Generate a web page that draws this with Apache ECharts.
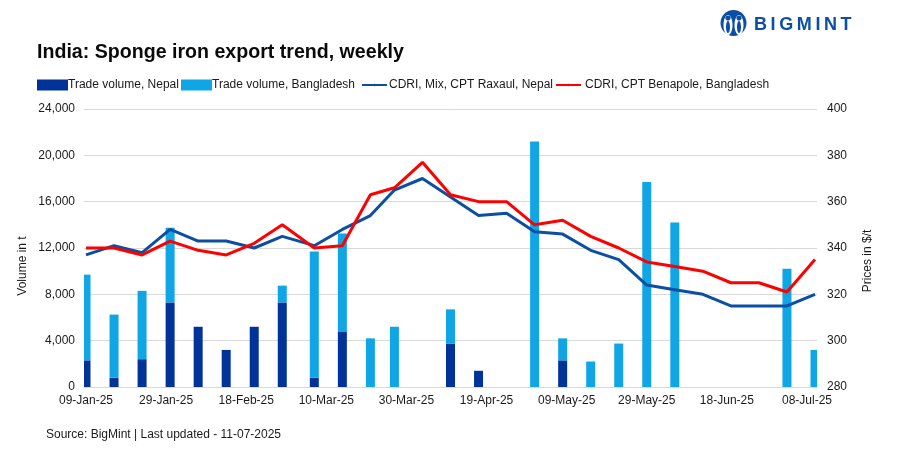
<!DOCTYPE html>
<html>
<head>
<meta charset="utf-8">
<script src="https://cdn.jsdelivr.net/npm/echarts@6/dist/echarts.min.js"></script>
<style>
html,body{margin:0;padding:0;background:#fff;}
#main{width:908px;height:453px;}
</style>
</head>
<body>
<div id="main"></div>
<script>
// weeks the prices were published, days counted from 09-Jan-25
var weekDays = [0,7,14,21,28,35,42,49,57,64,71,77,84,91,98,105,112,119,126,133,140,147,154,161,168,175,182];
var volNepal = [2300,800,2400,7300,5200,3200,5200,7300,800,4800,null,null,null,3750,1400,null,null,2300,null,null,null,null,null,null,null,null,null];
var volBangla = [7400,5450,5900,6450,null,null,null,1450,10900,8450,4200,5200,null,2950,null,null,21200,1900,2200,3750,17700,14200,null,null,null,10200,3200];
var cdriNepal = [337,341,338,348,343,343,340,345,341,348,354,365,370,362,354,355,347,346,339,335,324,322,320,315,315,315,320];
var cdriBangla = [340,340,337,343,339,337,342,350,340,341,363,366,377,363,360,360,350,352,345,340,334,332,330,325,325,321,335];
var leftTicks = {min:0, max:24000, step:4000};
var rightTicks = {min:280, max:400, step:20};
var seriesNames = ['Trade volume, Nepal','Trade volume, Bangladesh','CDRI, Mix, CPT Raxaul, Nepal','CDRI, CPT Benapole, Bangladesh'];

var FONT = '"Liberation Sans"';
var C_TEXT = '#1a1a1a', C_GRID = '#d9d9d9';
var C_NEPAL = '#003399', C_BANGLA = '#10A5E5', C_LINE = '#0B4EA2', C_RED = '#FF0000';

//date axis: one category per day, same as the source sheet
var MONTHS = ['Jan','Feb','Mar','Apr','May','Jun','Jul','Aug','Sep','Oct','Nov','Dec'];
function dayLabel(n){
	var d = new Date(Date.UTC(2025,0,9+n));
	var dd = d.getUTCDate();
	return (dd<10?'0':'')+dd+'-'+MONTHS[d.getUTCMonth()]+'-25';
}
var days = [];
for(var i=0;i<=weekDays[weekDays.length-1];i++){
	days.push(dayLabel(i));
}
function pairs(arr){
	return weekDays.map(function(d,i){ return [d,arr[i]]; });
}

function legendAt(name,left,w,h,shift){
	return {
		left:left, top:79, orient:'horizontal', padding:0,
		itemWidth:w, itemHeight:h, icon:h>5?'rect':undefined,
		data:[name], selectedMode:false,
		textStyle:{fontFamily:FONT,fontSize:12,color:C_TEXT,padding:[0,0,0,shift]}
	};
}
function sideText(text,x,y){
	return {type:'text',x:x,y:y,rotation:Math.PI/2,
		style:{text:text,fontFamily:FONT,fontSize:12,fill:C_TEXT,align:'center',verticalAlign:'middle'}};
}
function logoDot(x,y,rx,ry,fill){
	return {type:'ellipse',shape:{cx:x,cy:y,rx:rx,ry:ry},style:{fill:fill}};
}

var chart = echarts.init(document.getElementById('main'),null,{renderer:'canvas'});
chart.setOption({
	animation:false,
	backgroundColor:'#fff',
	title:{
		text:'India: Sponge iron export trend, weekly',
		left:37, top:43, padding:0,
		textStyle:{fontFamily:FONT,fontSize:19.6,fontWeight:'bold',color:'#0a0a0a'}
	},
	legend:[
		legendAt(seriesNames[0],37,31,11,-5),
		legendAt(seriesNames[1],181,31,11,-5),
		legendAt(seriesNames[2],361,25,3,-3),
		legendAt(seriesNames[3],555,25,3,-1)
	],
	grid:{left:84,right:91,top:109,bottom:66},
	xAxis:{
		type:'category',
		data:days,
		axisLine:{lineStyle:{color:C_GRID}},
		axisTick:{interval:19,length:4,lineStyle:{color:C_GRID}},
		axisLabel:{interval:19,fontFamily:FONT,fontSize:12,color:C_TEXT,margin:8,hideOverlap:false}
	},
	yAxis:[{
		type:'value',
		min:leftTicks.min,max:leftTicks.max,interval:leftTicks.step,
		axisLine:{show:false},axisTick:{show:false},
		splitLine:{lineStyle:{color:C_GRID}},
		axisLabel:{fontFamily:FONT,fontSize:12,color:C_TEXT,margin:9,
			formatter:function(v){return v.toLocaleString('en-US');}}
	},{
		type:'value',
		min:rightTicks.min,max:rightTicks.max,interval:rightTicks.step,
		axisLine:{show:false},axisTick:{show:false},splitLine:{show:false},
		axisLabel:{fontFamily:FONT,fontSize:12,color:C_TEXT,margin:10}
	}],
	series:[
		{name:seriesNames[0],type:'bar',stack:'vol',barWidth:9,clip:true,
			itemStyle:{color:C_NEPAL},data:pairs(volNepal)},
		{name:seriesNames[1],type:'bar',stack:'vol',barWidth:9,clip:true,
			itemStyle:{color:C_BANGLA},data:pairs(volBangla)},
		{name:seriesNames[2],type:'line',yAxisIndex:1,symbol:'none',
			lineStyle:{color:C_LINE,width:3},itemStyle:{color:C_LINE},data:pairs(cdriNepal)},
		{name:seriesNames[3],type:'line',yAxisIndex:1,symbol:'none',
			lineStyle:{color:C_RED,width:3},itemStyle:{color:C_RED},data:pairs(cdriBangla)}
	],
	graphic:[
		sideText('Volume in t',23,266),
		sideText('Prices in $/t',868,261),
		{type:'text',left:46,top:429,style:{text:'Source: BigMint | Last updated - 11-07-2025',fontFamily:FONT,fontSize:12,fill:C_TEXT}},
		logoDot(733.5,23,13,13,C_LINE),
		logoDot(728,25,4.5,10,'#fff'),
		logoDot(739,25,4.5,10,'#fff'),
		logoDot(728,18,2.6,2.6,C_LINE),
		logoDot(739,18,2.6,2.6,C_LINE),
		logoDot(728,27,2,6,C_LINE),
		logoDot(739,27,2,6,C_LINE),
		{type:'text',left:754,top:16,style:{text:'B\u2009I\u2009G\u2009M\u2009I\u2009N\u2009T',fontFamily:FONT,fontSize:18,fontWeight:'bold',fill:C_LINE}}
	]
});
</script>
</body>
</html>
